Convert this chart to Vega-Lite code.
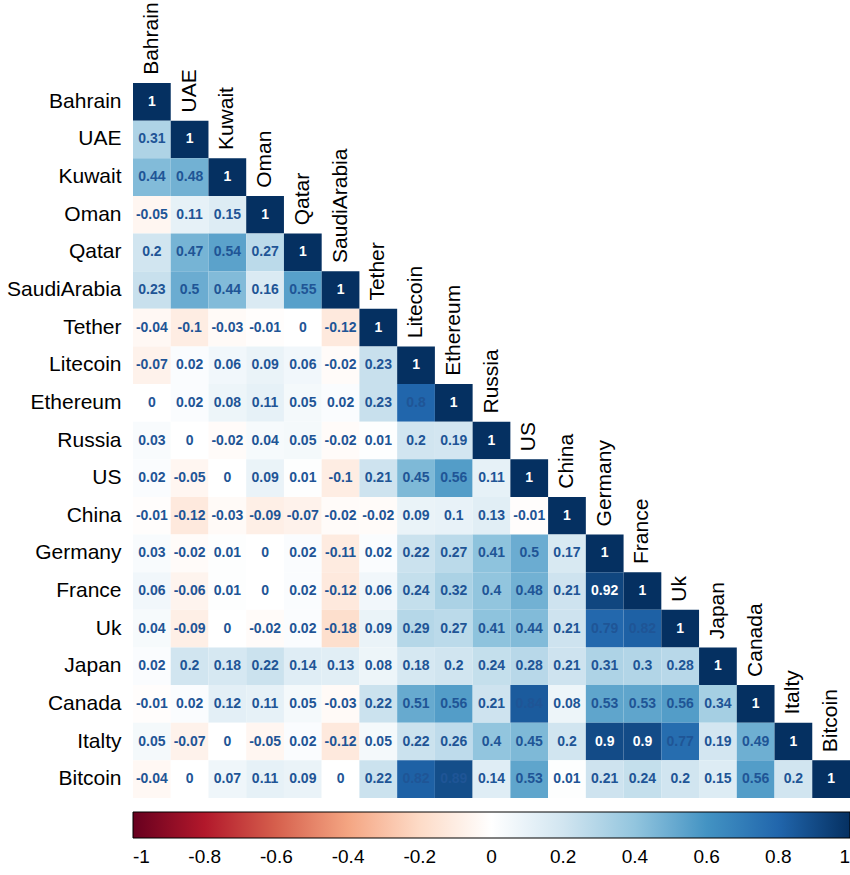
{
  "$schema": "https://vega.github.io/schema/vega-lite/v6.json",
  "width": 717,
  "height": 715,
  "autosize": {"type": "none"},
  "padding": {"left": 133, "top": 83, "right": 0, "bottom": 77},
  "background": "white",
  "config": {"view": {"stroke": null}, "font": "Liberation Sans"},
  "datasets": {
    "vars": [
      {"n": "Bahrain"}, {"n": "UAE"}, {"n": "Kuwait"}, {"n": "Oman"}, {"n": "Qatar"}, {"n": "SaudiArabia"}, {"n": "Tether"}, {"n": "Litecoin"}, {"n": "Ethereum"}, {"n": "Russia"}, {"n": "US"}, {"n": "China"}, {"n": "Germany"}, {"n": "France"}, {"n": "Uk"}, {"n": "Japan"}, {"n": "Canada"}, {"n": "Italty"}, {"n": "Bitcoin"}
    ],
    "cells": [
      {"r": "Bahrain", "c": "Bahrain", "v": 1},
      {"r": "UAE", "c": "Bahrain", "v": 0.31}, {"r": "UAE", "c": "UAE", "v": 1},
      {"r": "Kuwait", "c": "Bahrain", "v": 0.44}, {"r": "Kuwait", "c": "UAE", "v": 0.48}, {"r": "Kuwait", "c": "Kuwait", "v": 1},
      {"r": "Oman", "c": "Bahrain", "v": -0.05}, {"r": "Oman", "c": "UAE", "v": 0.11}, {"r": "Oman", "c": "Kuwait", "v": 0.15}, {"r": "Oman", "c": "Oman", "v": 1},
      {"r": "Qatar", "c": "Bahrain", "v": 0.2}, {"r": "Qatar", "c": "UAE", "v": 0.47}, {"r": "Qatar", "c": "Kuwait", "v": 0.54}, {"r": "Qatar", "c": "Oman", "v": 0.27}, {"r": "Qatar", "c": "Qatar", "v": 1},
      {"r": "SaudiArabia", "c": "Bahrain", "v": 0.23}, {"r": "SaudiArabia", "c": "UAE", "v": 0.5}, {"r": "SaudiArabia", "c": "Kuwait", "v": 0.44}, {"r": "SaudiArabia", "c": "Oman", "v": 0.16}, {"r": "SaudiArabia", "c": "Qatar", "v": 0.55}, {"r": "SaudiArabia", "c": "SaudiArabia", "v": 1},
      {"r": "Tether", "c": "Bahrain", "v": -0.04}, {"r": "Tether", "c": "UAE", "v": -0.1}, {"r": "Tether", "c": "Kuwait", "v": -0.03}, {"r": "Tether", "c": "Oman", "v": -0.01}, {"r": "Tether", "c": "Qatar", "v": 0}, {"r": "Tether", "c": "SaudiArabia", "v": -0.12}, {"r": "Tether", "c": "Tether", "v": 1},
      {"r": "Litecoin", "c": "Bahrain", "v": -0.07}, {"r": "Litecoin", "c": "UAE", "v": 0.02}, {"r": "Litecoin", "c": "Kuwait", "v": 0.06}, {"r": "Litecoin", "c": "Oman", "v": 0.09}, {"r": "Litecoin", "c": "Qatar", "v": 0.06}, {"r": "Litecoin", "c": "SaudiArabia", "v": -0.02}, {"r": "Litecoin", "c": "Tether", "v": 0.23}, {"r": "Litecoin", "c": "Litecoin", "v": 1},
      {"r": "Ethereum", "c": "Bahrain", "v": 0}, {"r": "Ethereum", "c": "UAE", "v": 0.02}, {"r": "Ethereum", "c": "Kuwait", "v": 0.08}, {"r": "Ethereum", "c": "Oman", "v": 0.11}, {"r": "Ethereum", "c": "Qatar", "v": 0.05}, {"r": "Ethereum", "c": "SaudiArabia", "v": 0.02}, {"r": "Ethereum", "c": "Tether", "v": 0.23}, {"r": "Ethereum", "c": "Litecoin", "v": 0.8}, {"r": "Ethereum", "c": "Ethereum", "v": 1},
      {"r": "Russia", "c": "Bahrain", "v": 0.03}, {"r": "Russia", "c": "UAE", "v": 0}, {"r": "Russia", "c": "Kuwait", "v": -0.02}, {"r": "Russia", "c": "Oman", "v": 0.04}, {"r": "Russia", "c": "Qatar", "v": 0.05}, {"r": "Russia", "c": "SaudiArabia", "v": -0.02}, {"r": "Russia", "c": "Tether", "v": 0.01}, {"r": "Russia", "c": "Litecoin", "v": 0.2}, {"r": "Russia", "c": "Ethereum", "v": 0.19}, {"r": "Russia", "c": "Russia", "v": 1},
      {"r": "US", "c": "Bahrain", "v": 0.02}, {"r": "US", "c": "UAE", "v": -0.05}, {"r": "US", "c": "Kuwait", "v": 0}, {"r": "US", "c": "Oman", "v": 0.09}, {"r": "US", "c": "Qatar", "v": 0.01}, {"r": "US", "c": "SaudiArabia", "v": -0.1}, {"r": "US", "c": "Tether", "v": 0.21}, {"r": "US", "c": "Litecoin", "v": 0.45}, {"r": "US", "c": "Ethereum", "v": 0.56}, {"r": "US", "c": "Russia", "v": 0.11}, {"r": "US", "c": "US", "v": 1},
      {"r": "China", "c": "Bahrain", "v": -0.01}, {"r": "China", "c": "UAE", "v": -0.12}, {"r": "China", "c": "Kuwait", "v": -0.03}, {"r": "China", "c": "Oman", "v": -0.09}, {"r": "China", "c": "Qatar", "v": -0.07}, {"r": "China", "c": "SaudiArabia", "v": -0.02}, {"r": "China", "c": "Tether", "v": -0.02}, {"r": "China", "c": "Litecoin", "v": 0.09}, {"r": "China", "c": "Ethereum", "v": 0.1}, {"r": "China", "c": "Russia", "v": 0.13}, {"r": "China", "c": "US", "v": -0.01}, {"r": "China", "c": "China", "v": 1},
      {"r": "Germany", "c": "Bahrain", "v": 0.03}, {"r": "Germany", "c": "UAE", "v": -0.02}, {"r": "Germany", "c": "Kuwait", "v": 0.01}, {"r": "Germany", "c": "Oman", "v": 0}, {"r": "Germany", "c": "Qatar", "v": 0.02}, {"r": "Germany", "c": "SaudiArabia", "v": -0.11}, {"r": "Germany", "c": "Tether", "v": 0.02}, {"r": "Germany", "c": "Litecoin", "v": 0.22}, {"r": "Germany", "c": "Ethereum", "v": 0.27}, {"r": "Germany", "c": "Russia", "v": 0.41}, {"r": "Germany", "c": "US", "v": 0.5}, {"r": "Germany", "c": "China", "v": 0.17}, {"r": "Germany", "c": "Germany", "v": 1},
      {"r": "France", "c": "Bahrain", "v": 0.06}, {"r": "France", "c": "UAE", "v": -0.06}, {"r": "France", "c": "Kuwait", "v": 0.01}, {"r": "France", "c": "Oman", "v": 0}, {"r": "France", "c": "Qatar", "v": 0.02}, {"r": "France", "c": "SaudiArabia", "v": -0.12}, {"r": "France", "c": "Tether", "v": 0.06}, {"r": "France", "c": "Litecoin", "v": 0.24}, {"r": "France", "c": "Ethereum", "v": 0.32}, {"r": "France", "c": "Russia", "v": 0.4}, {"r": "France", "c": "US", "v": 0.48}, {"r": "France", "c": "China", "v": 0.21}, {"r": "France", "c": "Germany", "v": 0.92}, {"r": "France", "c": "France", "v": 1},
      {"r": "Uk", "c": "Bahrain", "v": 0.04}, {"r": "Uk", "c": "UAE", "v": -0.09}, {"r": "Uk", "c": "Kuwait", "v": 0}, {"r": "Uk", "c": "Oman", "v": -0.02}, {"r": "Uk", "c": "Qatar", "v": 0.02}, {"r": "Uk", "c": "SaudiArabia", "v": -0.18}, {"r": "Uk", "c": "Tether", "v": 0.09}, {"r": "Uk", "c": "Litecoin", "v": 0.29}, {"r": "Uk", "c": "Ethereum", "v": 0.27}, {"r": "Uk", "c": "Russia", "v": 0.41}, {"r": "Uk", "c": "US", "v": 0.44}, {"r": "Uk", "c": "China", "v": 0.21}, {"r": "Uk", "c": "Germany", "v": 0.79}, {"r": "Uk", "c": "France", "v": 0.82}, {"r": "Uk", "c": "Uk", "v": 1},
      {"r": "Japan", "c": "Bahrain", "v": 0.02}, {"r": "Japan", "c": "UAE", "v": 0.2}, {"r": "Japan", "c": "Kuwait", "v": 0.18}, {"r": "Japan", "c": "Oman", "v": 0.22}, {"r": "Japan", "c": "Qatar", "v": 0.14}, {"r": "Japan", "c": "SaudiArabia", "v": 0.13}, {"r": "Japan", "c": "Tether", "v": 0.08}, {"r": "Japan", "c": "Litecoin", "v": 0.18}, {"r": "Japan", "c": "Ethereum", "v": 0.2}, {"r": "Japan", "c": "Russia", "v": 0.24}, {"r": "Japan", "c": "US", "v": 0.28}, {"r": "Japan", "c": "China", "v": 0.21}, {"r": "Japan", "c": "Germany", "v": 0.31}, {"r": "Japan", "c": "France", "v": 0.3}, {"r": "Japan", "c": "Uk", "v": 0.28}, {"r": "Japan", "c": "Japan", "v": 1},
      {"r": "Canada", "c": "Bahrain", "v": -0.01}, {"r": "Canada", "c": "UAE", "v": 0.02}, {"r": "Canada", "c": "Kuwait", "v": 0.12}, {"r": "Canada", "c": "Oman", "v": 0.11}, {"r": "Canada", "c": "Qatar", "v": 0.05}, {"r": "Canada", "c": "SaudiArabia", "v": -0.03}, {"r": "Canada", "c": "Tether", "v": 0.22}, {"r": "Canada", "c": "Litecoin", "v": 0.51}, {"r": "Canada", "c": "Ethereum", "v": 0.56}, {"r": "Canada", "c": "Russia", "v": 0.21}, {"r": "Canada", "c": "US", "v": 0.84}, {"r": "Canada", "c": "China", "v": 0.08}, {"r": "Canada", "c": "Germany", "v": 0.53}, {"r": "Canada", "c": "France", "v": 0.53}, {"r": "Canada", "c": "Uk", "v": 0.56}, {"r": "Canada", "c": "Japan", "v": 0.34}, {"r": "Canada", "c": "Canada", "v": 1},
      {"r": "Italty", "c": "Bahrain", "v": 0.05}, {"r": "Italty", "c": "UAE", "v": -0.07}, {"r": "Italty", "c": "Kuwait", "v": 0}, {"r": "Italty", "c": "Oman", "v": -0.05}, {"r": "Italty", "c": "Qatar", "v": 0.02}, {"r": "Italty", "c": "SaudiArabia", "v": -0.12}, {"r": "Italty", "c": "Tether", "v": 0.05}, {"r": "Italty", "c": "Litecoin", "v": 0.22}, {"r": "Italty", "c": "Ethereum", "v": 0.26}, {"r": "Italty", "c": "Russia", "v": 0.4}, {"r": "Italty", "c": "US", "v": 0.45}, {"r": "Italty", "c": "China", "v": 0.2}, {"r": "Italty", "c": "Germany", "v": 0.9}, {"r": "Italty", "c": "France", "v": 0.9}, {"r": "Italty", "c": "Uk", "v": 0.77}, {"r": "Italty", "c": "Japan", "v": 0.19}, {"r": "Italty", "c": "Canada", "v": 0.49}, {"r": "Italty", "c": "Italty", "v": 1},
      {"r": "Bitcoin", "c": "Bahrain", "v": -0.04}, {"r": "Bitcoin", "c": "UAE", "v": 0}, {"r": "Bitcoin", "c": "Kuwait", "v": 0.07}, {"r": "Bitcoin", "c": "Oman", "v": 0.11}, {"r": "Bitcoin", "c": "Qatar", "v": 0.09}, {"r": "Bitcoin", "c": "SaudiArabia", "v": 0}, {"r": "Bitcoin", "c": "Tether", "v": 0.22}, {"r": "Bitcoin", "c": "Litecoin", "v": 0.82}, {"r": "Bitcoin", "c": "Ethereum", "v": 0.89}, {"r": "Bitcoin", "c": "Russia", "v": 0.14}, {"r": "Bitcoin", "c": "US", "v": 0.53}, {"r": "Bitcoin", "c": "China", "v": 0.01}, {"r": "Bitcoin", "c": "Germany", "v": 0.21}, {"r": "Bitcoin", "c": "France", "v": 0.24}, {"r": "Bitcoin", "c": "Uk", "v": 0.2}, {"r": "Bitcoin", "c": "Japan", "v": 0.15}, {"r": "Bitcoin", "c": "Canada", "v": 0.56}, {"r": "Bitcoin", "c": "Italty", "v": 0.2}, {"r": "Bitcoin", "c": "Bitcoin", "v": 1}
    ]
  },
  "layer": [
    {
      "data": {"name": "cells"},
      "mark": {"type": "rect"},
      "encoding": {
        "x": {"field": "c", "type": "nominal", "axis": null,
              "scale": {"domain": ["Bahrain","UAE","Kuwait","Oman","Qatar","SaudiArabia","Tether","Litecoin","Ethereum","Russia","US","China","Germany","France","Uk","Japan","Canada","Italty","Bitcoin"], "paddingInner": 0, "paddingOuter": 0}},
        "y": {"field": "r", "type": "nominal",
              "scale": {"domain": ["Bahrain","UAE","Kuwait","Oman","Qatar","SaudiArabia","Tether","Litecoin","Ethereum","Russia","US","China","Germany","France","Uk","Japan","Canada","Italty","Bitcoin"], "paddingInner": 0, "paddingOuter": 0},
              "axis": {"title": null, "domain": false, "ticks": false, "labelFontSize": 21, "labelColor": "black", "labelPadding": 12, "labelFont": "Liberation Sans"}},
        "color": {"field": "v", "type": "quantitative",
                  "scale": {"type": "linear", "domain": [-1,-0.8,-0.6,-0.4,-0.2,0,0.2,0.4,0.6,0.8,1],
                            "range": ["#67001F","#B2182B","#D6604D","#F4A582","#FDDBC7","#FFFFFF","#D1E5F0","#92C5DE","#4393C3","#2166AC","#053061"],
                            "interpolate": "rgb"},
                  "legend": {"orient": "none", "legendX": 0, "legendY": 729, "direction": "horizontal", "title": null,
                             "gradientLength": 717, "gradientThickness": 26,
                             "gradientStrokeColor": "black", "gradientStrokeWidth": 1,
                             "values": [-1,-0.8,-0.6,-0.4,-0.2,0,0.2,0.4,0.6,0.8,1],
                             "labelExpr": "datum.value + ''", "labelFontSize": 19, "labelColor": "black",
                             "labelAlign": "center", "labelOffset": 10, "labelOverlap": false, "labelFont": "Liberation Sans"}}
      }
    },
    {
      "data": {"name": "cells"},
      "mark": {"type": "text", "fontWeight": "bold", "fontSize": 14, "font": "Liberation Sans"},
      "encoding": {
        "x": {"field": "c", "type": "nominal"},
        "y": {"field": "r", "type": "nominal"},
        "text": {"field": "v", "type": "nominal"},
        "color": {"condition": {"test": "datum.v >= 0.9", "value": "white"}, "value": "#1f5596"}
      }
    },
    {
      "data": {"name": "vars"},
      "mark": {"type": "text", "angle": 270, "align": "left", "baseline": "middle", "fontSize": 21, "yOffset": -27, "color": "black", "font": "Liberation Sans"},
      "encoding": {
        "x": {"field": "n", "type": "nominal"},
        "y": {"field": "n", "type": "nominal"},
        "text": {"field": "n", "type": "nominal"}
      }
    }
  ]
}
